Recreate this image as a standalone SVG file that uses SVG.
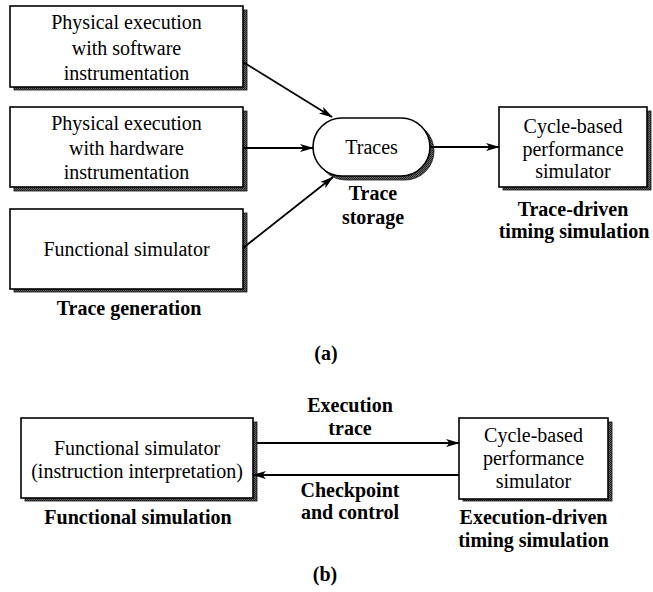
<svg xmlns="http://www.w3.org/2000/svg" width="653" height="592" viewBox="0 0 653 592">
  <defs>
    <pattern id="grain" width="2" height="2" patternUnits="userSpaceOnUse">
      <rect width="2" height="2" fill="#6a6a6a"/>
      <rect width="1" height="1" fill="#1a1a1a"/>
      <rect x="1" y="1" width="1" height="1" fill="#2a2a2a"/>
    </pattern>
    <marker id="arrow" markerWidth="14" markerHeight="10" refX="13" refY="5" orient="auto" markerUnits="userSpaceOnUse">
      <path d="M0,1 L14,5 L0,9 L3.5,5 Z" fill="#000"/>
    </marker>
  </defs>
  <style>
    .box { fill: #fff; stroke: #000; stroke-width: 1.6; }
    .shadow { fill: url(#grain); stroke: #111; stroke-width: 0.8; }
    .txt { font-family: "Liberation Serif", "Times New Roman", serif; font-size: 20px; fill: #000; text-anchor: middle; }
    .lbl { font-family: "Liberation Serif", "Times New Roman", serif; font-size: 20px; font-weight: bold; fill: #000; text-anchor: middle; }
    .wire { fill: none; stroke: #000; stroke-width: 1.8; marker-end: url(#arrow); }
  </style>
  <rect width="653" height="592" fill="#fff"/>

  <!-- (a) trace-driven simulation -->
  <g id="sw-instrumentation">
    <rect class="shadow" x="14" y="10" width="233" height="80"/>
    <rect class="box" x="10" y="6" width="233" height="81"/>
    <text class="txt" x="126.5" y="29">Physical execution</text>
    <text class="txt" x="126.5" y="55">with software</text>
    <text class="txt" x="126.5" y="80">instrumentation</text>
  </g>
  <g id="hw-instrumentation">
    <rect class="shadow" x="14" y="111" width="233" height="80"/>
    <rect class="box" x="10" y="107" width="233" height="80"/>
    <text class="txt" x="126.5" y="130">Physical execution</text>
    <text class="txt" x="126.5" y="155">with hardware</text>
    <text class="txt" x="126.5" y="179">instrumentation</text>
  </g>
  <g id="functional-sim-a">
    <rect class="shadow" x="14" y="213" width="233" height="79"/>
    <rect class="box" x="10" y="209" width="233" height="80"/>
    <text class="txt" x="126.5" y="256">Functional simulator</text>
  </g>
  <g id="trace-generation-label">
    <text class="lbl" x="129" y="315">Trace generation</text>
  </g>
  <g id="traces">
    <rect class="shadow" x="317" y="122" width="117" height="58" rx="29" ry="29"/>
    <rect class="box" x="313" y="118" width="117" height="58" rx="29" ry="29"/>
    <text class="txt" x="371.5" y="154">Traces</text>
    <text class="lbl" x="373" y="200">Trace</text>
    <text class="lbl" x="373" y="224">storage</text>
  </g>
  <g id="cycle-sim-a">
    <rect class="shadow" x="503" y="111" width="148" height="79"/>
    <rect class="box" x="499" y="107" width="148" height="80"/>
    <text class="txt" x="573" y="133">Cycle-based</text>
    <text class="txt" x="573" y="156">performance</text>
    <text class="txt" x="573" y="178">simulator</text>
    <text class="lbl" x="573" y="216">Trace-driven</text>
    <text class="lbl" x="574" y="238">timing simulation</text>
  </g>
  <g id="caption-a">
    <text class="lbl" x="326" y="360">(a)</text>
  </g>

  <!-- (b) execution-driven simulation -->
  <g id="functional-sim-b">
    <rect class="shadow" x="25" y="422" width="232" height="79"/>
    <rect class="box" x="21" y="418" width="232" height="80"/>
    <text class="txt" x="137" y="455">Functional simulator</text>
    <text class="txt" x="137" y="478">(instruction interpretation)</text>
    <text class="lbl" x="138" y="524">Functional simulation</text>
  </g>
  <g id="cycle-sim-b">
    <rect class="shadow" x="463" y="422" width="149" height="79"/>
    <rect class="box" x="459" y="418" width="149" height="81"/>
    <text class="txt" x="533.5" y="442">Cycle-based</text>
    <text class="txt" x="533.5" y="465">performance</text>
    <text class="txt" x="533.5" y="488">simulator</text>
    <text class="lbl" x="533.5" y="524">Execution-driven</text>
    <text class="lbl" x="533.5" y="547">timing simulation</text>
  </g>
  <g id="link-labels">
    <text class="lbl" x="350" y="412">Execution</text>
    <text class="lbl" x="350" y="435">trace</text>
    <text class="lbl" x="350" y="497">Checkpoint</text>
    <text class="lbl" x="350" y="519">and control</text>
  </g>
  <g id="caption-b">
    <text class="lbl" x="325" y="581">(b)</text>
  </g>

  <g id="connectors">
    <line class="wire" x1="243" y1="62" x2="332" y2="117"/>
    <line class="wire" x1="243" y1="148" x2="313" y2="148"/>
    <line class="wire" x1="243" y1="248" x2="333" y2="177"/>
    <line class="wire" x1="430" y1="147" x2="499" y2="147"/>
    <line class="wire" x1="257" y1="443" x2="459" y2="443"/>
    <line class="wire" x1="459" y1="475" x2="253" y2="475"/>
  </g>
</svg>
